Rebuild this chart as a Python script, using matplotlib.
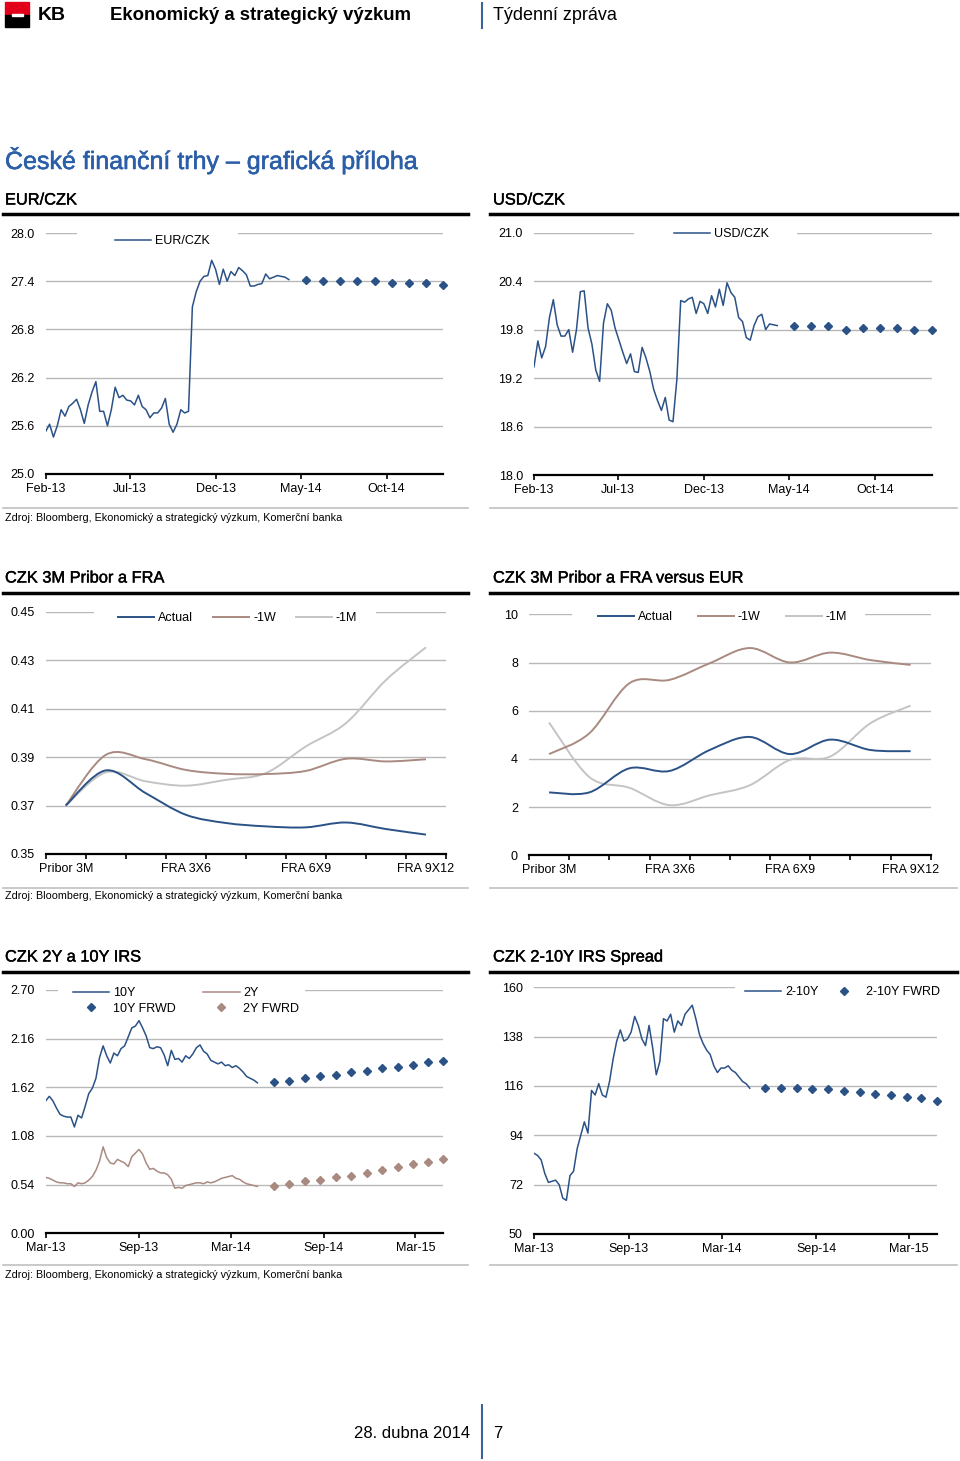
import numpy as np
import pandas as pd
import matplotlib
matplotlib.use('Agg')
import matplotlib.pyplot as plt
import matplotlib.patheffects as pe
from matplotlib.path import Path
from matplotlib.patches import PathPatch, Rectangle
from matplotlib.lines import Line2D

plt.rcParams['font.family'] = ['Liberation Sans', 'DejaVu Sans']

W, H = 960, 1461
BLUE = '#2b5287'
BROWN = '#a98a80'
LGRAY = '#c4c4c4'
GRID = '#b8b8b8'

# ---- data ----
eur_czk = [25.53, 25.62, 25.46, 25.60, 25.80, 25.72, 25.84, 25.88, 25.93, 25.80,
           25.63, 25.86, 26.02, 26.15, 25.78, 25.78, 25.60, 25.80, 26.08, 25.95,
           25.98, 25.92, 25.91, 25.86, 25.98, 25.84, 25.80, 25.70, 25.76, 25.76,
           25.82, 25.94, 25.62, 25.52, 25.62, 25.80, 25.76, 25.78, 27.08, 27.27,
           27.40, 27.46, 27.47, 27.66, 27.55, 27.36, 27.55, 27.40, 27.52, 27.47,
           27.57, 27.53, 27.48, 27.34, 27.34, 27.36, 27.37, 27.49, 27.43, 27.45,
           27.47, 27.46, 27.45, 27.42]
usd_czk = [19.34, 19.66, 19.45, 19.59, 19.95, 20.17, 19.86, 19.72, 19.72, 19.80,
           19.52, 19.80, 20.27, 20.28, 19.82, 19.62, 19.30, 19.16, 19.88, 20.12,
           20.04, 19.82, 19.67, 19.52, 19.38, 19.50, 19.28, 19.27, 19.58, 19.45,
           19.28, 19.06, 18.92, 18.80, 18.96, 18.68, 18.66, 19.18, 20.16, 20.14,
           20.18, 20.20, 20.00, 20.15, 20.12, 20.00, 20.22, 20.08, 20.30, 20.10,
           20.38, 20.26, 20.20, 19.95, 19.90, 19.70, 19.67, 19.85, 19.96, 19.99,
           19.80, 19.87, 19.86, 19.85]
fx_dates = pd.date_range('2013-02-01', '2014-04-10', periods=len(eur_czk))
fx_fcst_dates = pd.to_datetime(['2014-05-10', '2014-06-10', '2014-07-10', '2014-08-10', '2014-09-10',
                                '2014-10-10', '2014-11-10', '2014-12-10', '2015-01-10'])
eur_fcst = [27.41, 27.40, 27.40, 27.40, 27.40, 27.38, 27.38, 27.38, 27.35]
usd_fcst = [19.84, 19.84, 19.84, 19.80, 19.82, 19.82, 19.82, 19.80, 19.80]
fx_ticks = pd.to_datetime(['2013-02-01', '2013-07-01', '2013-12-01', '2014-05-01', '2014-10-01'])

fra_labels = ['Pribor 3M', 'FRA 1X4', 'FRA 2X5', 'FRA 3X6', 'FRA 4X7',
              'FRA 5X8', 'FRA 6X9', 'FRA 7X10', 'FRA 8X11', 'FRA 9X12']
fra_actual = [0.3700, 0.3845, 0.3751, 0.3662, 0.3628, 0.3614, 0.3610, 0.3630, 0.3603, 0.3580]
fra_1w = [0.3700, 0.3909, 0.3891, 0.3847, 0.3831, 0.3830, 0.3843, 0.3893, 0.3882, 0.3891]
fra_1m = [0.3700, 0.3837, 0.3800, 0.3782, 0.3806, 0.3834, 0.3944, 0.4040, 0.4218, 0.4353]
eur_actual = [2.61, 2.61, 3.61, 3.50, 4.37, 4.91, 4.20, 4.80, 4.37, 4.32]
eur_1w = [4.20, 5.06, 7.14, 7.28, 7.97, 8.60, 8.00, 8.41, 8.10, 7.90]
eur_1m = [5.51, 3.25, 2.80, 2.08, 2.49, 2.91, 3.96, 4.10, 5.48, 6.21]

irs_10y = [1.47, 1.52, 1.47, 1.39, 1.32, 1.30, 1.29, 1.29, 1.18, 1.31,
           1.28, 1.41, 1.55, 1.61, 1.72, 1.95, 2.08, 1.97, 1.89, 2.00,
           1.97, 2.05, 2.08, 2.18, 2.28, 2.30, 2.36, 2.28, 2.19, 2.06,
           2.05, 2.07, 2.06, 1.98, 1.86, 2.03, 1.93, 1.94, 1.90, 1.97,
           1.94, 1.99, 2.06, 2.09, 2.02, 1.99, 1.92, 1.90, 1.88, 1.90,
           1.86, 1.87, 1.84, 1.86, 1.83, 1.79, 1.74, 1.72, 1.70, 1.67]
irs_2y = [0.62, 0.61, 0.59, 0.57, 0.56, 0.56, 0.55, 0.55, 0.52, 0.56,
          0.55, 0.56, 0.59, 0.63, 0.70, 0.80, 0.96, 0.84, 0.78, 0.77,
          0.82, 0.80, 0.78, 0.74, 0.85, 0.89, 0.93, 0.88, 0.78, 0.71,
          0.72, 0.69, 0.67, 0.67, 0.65, 0.60, 0.50, 0.51, 0.50, 0.53,
          0.54, 0.55, 0.56, 0.56, 0.55, 0.57, 0.56, 0.57, 0.59, 0.61,
          0.62, 0.63, 0.64, 0.61, 0.60, 0.57, 0.55, 0.54, 0.53, 0.52]
irs_dates = pd.date_range('2013-03-01', '2014-04-23', periods=len(irs_10y))
irs_fcst_dates = pd.to_datetime(['2014-05-25', '2014-06-25', '2014-07-25', '2014-08-25', '2014-09-25',
                                 '2014-10-25', '2014-11-25', '2014-12-25', '2015-01-25', '2015-02-25',
                                 '2015-03-25', '2015-04-25'])
irs_10y_fcst = [1.675, 1.694, 1.728, 1.746, 1.757, 1.787, 1.801, 1.834, 1.849, 1.864, 1.897, 1.912]
irs_2y_fcst = [0.529, 0.544, 0.584, 0.592, 0.621, 0.640, 0.673, 0.703, 0.736, 0.766, 0.795, 0.828]
spread = [86, 85, 83, 77, 73, 73.5, 74, 72, 66, 65,
          76, 78, 88, 94, 100, 95, 114, 112, 117, 112,
          111, 118, 128, 136, 141, 136, 137, 140, 147, 143,
          137, 134, 143, 133, 121, 127, 146, 145, 148, 140,
          145, 143, 148, 150, 152, 146, 139, 135, 132, 130,
          125, 122, 124, 124, 125, 123, 122, 120, 118, 117, 115]
spread_dates = pd.date_range('2013-03-01', '2014-04-25', periods=len(spread))
spread_fcst = [115.3, 115.3, 115.3, 114.5, 114.5, 113.9, 113.2, 112.6, 112.0, 111.3, 110.7, 109.5]
irs_ticks = pd.to_datetime(['2013-03-01', '2013-09-01', '2014-03-01', '2014-09-01', '2015-03-01'])

fig = plt.figure(figsize=(W / 100, H / 100), dpi=100)
heavy = [pe.withStroke(linewidth=0.3, foreground='black')]


def fx(x):
    return x / W


def fy(y):
    return 1 - y / H


def hline(x0, x1, y, color, lw):
    fig.add_artist(Line2D([fx(x0), fx(x1)], [fy(y), fy(y)], transform=fig.transFigure, color=color, lw=lw))


def px_axes(ext):
    x0, y0, x1, y1 = ext
    return fig.add_axes([fx(x0), fy(y1), (x1 - x0) / W, (y1 - y0) / H])


def style(ax, yticks, fmt):
    ax.set_ylim(yticks[0], yticks[-1])
    ax.set_yticks(yticks)
    ax.set_yticklabels([fmt % v for v in yticks])
    ax.grid(axis='y', color=GRID, lw=1.0)
    ax.set_axisbelow(True)
    for s in ['top', 'right', 'left']:
        ax.spines[s].set_visible(False)
    ax.spines['bottom'].set_linewidth(1.6)
    ax.tick_params(axis='y', length=0, pad=8, labelsize=9)
    ax.tick_params(axis='x', which='major', length=3.5, width=1.2, direction='out', pad=3, labelsize=9)


def gap(ax, ext, gx0, gx1):
    x0, y0, x1, y1 = ext
    a = (gx0 - x0) / (x1 - x0)
    b = (gx1 - x0) / (x1 - x0)
    ax.add_patch(Rectangle((a, 0.97), b - a, 0.06, transform=ax.transAxes, facecolor='white',
                           edgecolor='none', zorder=1, clip_on=False))


def legend(ax, ext, hx, hy, ncol=1, colsp=1.6, handles=None):
    x0, y0, x1, y1 = ext
    kw = {}
    if handles is not None:
        kw['handles'] = handles
    ax.legend(loc='center left', bbox_to_anchor=((hx - x0) / (x1 - x0), (y1 - hy) / (y1 - y0)),
              frameon=False, borderpad=0, borderaxespad=0, handlelength=2.9, handletextpad=0.3,
              ncol=ncol, columnspacing=colsp, labelspacing=0.3, fontsize=9, **kw)


def smooth(ax, xs, ys, color, lw):
    xs = np.asarray(xs, float)
    ys = np.asarray(ys, float)
    px = np.r_[xs[0], xs, xs[-1]]
    py = np.r_[ys[0], ys, ys[-1]]
    verts = [(xs[0], ys[0])]
    codes = [Path.MOVETO]
    for i in range(len(xs) - 1):
        c1 = (xs[i] + (px[i + 2] - px[i]) / 6, ys[i] + (py[i + 2] - py[i]) / 6)
        c2 = (xs[i + 1] - (px[i + 3] - px[i + 1]) / 6, ys[i + 1] - (py[i + 3] - py[i + 1]) / 6)
        verts += [c1, c2, (xs[i + 1], ys[i + 1])]
        codes += [Path.CURVE4] * 3
    ax.add_patch(PathPatch(Path(verts, codes), fill=False, edgecolor=color, lw=lw, zorder=2))


# ---- header ----
fig.add_artist(Rectangle((fx(5), fy(15)), 24 / W, 13 / H, transform=fig.transFigure, color='#e2001a'))
fig.add_artist(Rectangle((fx(5), fy(27)), 24 / W, 12 / H, transform=fig.transFigure, color='black'))
fig.add_artist(Rectangle((fx(12), fy(16)), 11 / W, 2 / H, transform=fig.transFigure, color='white'))
fig.text(fx(38), fy(15), 'KB', fontsize=14, fontweight='bold', va='center')
fig.text(fx(110), fy(15), 'Ekonomický a strategický výzkum', fontsize=13.4, fontweight='bold', va='center')
fig.add_artist(Line2D([fx(482), fx(482)], [fy(3), fy(28)], transform=fig.transFigure, color='#3a6496', lw=1.5))
fig.text(fx(493), fy(15), 'Týdenní zpráva', fontsize=13, va='center')

fig.text(fx(5), fy(160), 'České finanční trhy – grafická příloha', fontsize=18, color='#2b5ea8', va='center',
         path_effects=[pe.withStroke(linewidth=0.4, foreground='#2b5ea8')])

# panel frames
for (tx, ty, title) in [(5, 200, 'EUR/CZK'), (493, 200, 'USD/CZK'),
                        (5, 578, 'CZK 3M Pribor a FRA'), (493, 578, 'CZK 3M Pribor a FRA versus EUR'),
                        (5, 957, 'CZK 2Y a 10Y IRS'), (493, 957, 'CZK 2-10Y IRS Spread')]:
    fig.text(fx(tx), fy(ty), title, fontsize=11.8, va='center', path_effects=heavy)
for y in [214, 593, 972]:
    hline(3, 468, y, 'black', 2.5)
    hline(490, 957, y, 'black', 2.5)
for y in [508, 888, 1265]:
    hline(3, 468, y, '#c0c0c0', 1.2)
    hline(490, 957, y, '#c0c0c0', 1.2)
for y in [518, 896, 1275]:
    fig.text(fx(5), fy(y), 'Zdroj: Bloomberg, Ekonomický a strategický výzkum, Komerční banka',
             fontsize=7.75, va='center')

# ---- EUR/CZK ----
ext = (45.7, 233, 443.3, 474)
ax = px_axes(ext)
ax.plot(fx_dates, eur_czk, color=BLUE, lw=1.1, label='EUR/CZK')
ax.plot(fx_fcst_dates, eur_fcst, 'D', color=BLUE, ms=4.2, clip_on=False)
ax.set_xlim(fx_dates[0], fx_fcst_dates[-1])
ax.set_xticks(fx_ticks)
ax.set_xticklabels([d.strftime('%b-%y') for d in fx_ticks])
style(ax, [25.0, 25.6, 26.2, 26.8, 27.4, 28.0], '%.1f')
gap(ax, ext, 77, 238)
legend(ax, ext, 115, 241)

# ---- USD/CZK ----
ext = (534, 232.7, 931.7, 475)
ax = px_axes(ext)
ax.plot(fx_dates, usd_czk, color=BLUE, lw=1.1, label='USD/CZK')
ax.plot(fx_fcst_dates, usd_fcst, 'D', color=BLUE, ms=4.2, clip_on=False)
ax.set_xlim(fx_dates[0], fx_fcst_dates[-1])
ax.set_xticks(fx_ticks)
ax.set_xticklabels([d.strftime('%b-%y') for d in fx_ticks])
style(ax, [18.0, 18.6, 19.2, 19.8, 20.4, 21.0], '%.1f')
gap(ax, ext, 634, 797)
legend(ax, ext, 674, 234)


def category_axes(ax):
    ax.set_xlim(-0.5, len(fra_labels) - 0.5)
    ax.set_xticks(np.arange(len(fra_labels) + 1) - 0.5)
    ax.set_xticklabels([])
    ax.set_xticks([0, 3, 6, 9], minor=True)
    ax.set_xticklabels([fra_labels[i] for i in [0, 3, 6, 9]], minor=True)
    ax.tick_params(axis='x', which='minor', length=0, pad=6.5, labelsize=9)


cats = np.arange(len(fra_labels))
proxies = [Line2D([], [], color=BLUE, lw=1.4, label='Actual'),
           Line2D([], [], color=BROWN, lw=1.4, label='-1W'),
           Line2D([], [], color=LGRAY, lw=1.4, label='-1M')]

# ---- CZK 3M Pribor a FRA ----
ext = (45.7, 611.7, 446, 854)
ax = px_axes(ext)
smooth(ax, cats, fra_1m, LGRAY, 1.4)
smooth(ax, cats, fra_1w, BROWN, 1.4)
smooth(ax, cats, fra_actual, BLUE, 1.4)
style(ax, [0.35, 0.37, 0.39, 0.41, 0.43, 0.45], '%.2f')
category_axes(ax)
gap(ax, ext, 94, 376)
legend(ax, ext, 118, 618, ncol=3, colsp=1.6, handles=proxies)

# ---- CZK 3M Pribor a FRA versus EUR ----
ext = (529, 614.3, 930.7, 855.3)
ax = px_axes(ext)
smooth(ax, cats, eur_1m, LGRAY, 1.4)
smooth(ax, cats, eur_1w, BROWN, 1.4)
smooth(ax, cats, eur_actual, BLUE, 1.4)
style(ax, [0, 2, 4, 6, 8, 10], '%d')
category_axes(ax)
gap(ax, ext, 572, 865)
legend(ax, ext, 598, 617, ncol=3, colsp=2.0, handles=proxies)

# ---- CZK 2Y a 10Y IRS ----
ext = (45.7, 990, 443.3, 1233.3)
ax = px_axes(ext)
ax.plot(irs_dates, irs_10y, color=BLUE, lw=1.1, label='10Y')
ax.plot(irs_fcst_dates, irs_10y_fcst, 'D', color=BLUE, ms=3.6, ls='none', label='10Y FRWD', clip_on=False)
ax.plot(irs_dates, irs_2y, color=BROWN, lw=1.1, label='2Y')
ax.plot(irs_fcst_dates, irs_2y_fcst, 'D', color=BROWN, ms=3.6, ls='none', label='2Y FWRD', clip_on=False)
ax.set_xlim(irs_dates[0], irs_fcst_dates[-1])
ax.set_xticks(irs_ticks)
ax.set_xticklabels([d.strftime('%b-%y') for d in irs_ticks])
style(ax, [0.0, 0.54, 1.08, 1.62, 2.16, 2.70], '%.2f')
gap(ax, ext, 58, 305)
legend(ax, ext, 73, 1001, ncol=2, colsp=2.2)

# ---- CZK 2-10Y IRS Spread ----
ext = (534, 987.3, 937.3, 1234)
ax = px_axes(ext)
ax.plot(spread_dates, spread, color=BLUE, lw=1.1, label='2-10Y')
ax.plot(irs_fcst_dates, spread_fcst, 'D', color=BLUE, ms=3.6, ls='none', label='2-10Y FWRD', clip_on=False)
ax.set_xlim(spread_dates[0], irs_fcst_dates[-1])
ax.set_xticks(irs_ticks)
ax.set_xticklabels([d.strftime('%b-%y') for d in irs_ticks])
style(ax, [50, 72, 94, 116, 138, 160], '%d')
gap(ax, ext, 735, 935)
legend(ax, ext, 745, 992, ncol=2, colsp=0.6)

# ---- footer ----
fig.text(fx(470), fy(1433), '28. dubna 2014', fontsize=12, ha='right', va='center')
fig.add_artist(Line2D([fx(482), fx(482)], [fy(1405), fy(1458)], transform=fig.transFigure, color='#3a6496', lw=1.5))
fig.text(fx(493), fy(1433), '7', fontsize=12, va='center')

fig.savefig('out.png', dpi=100)
